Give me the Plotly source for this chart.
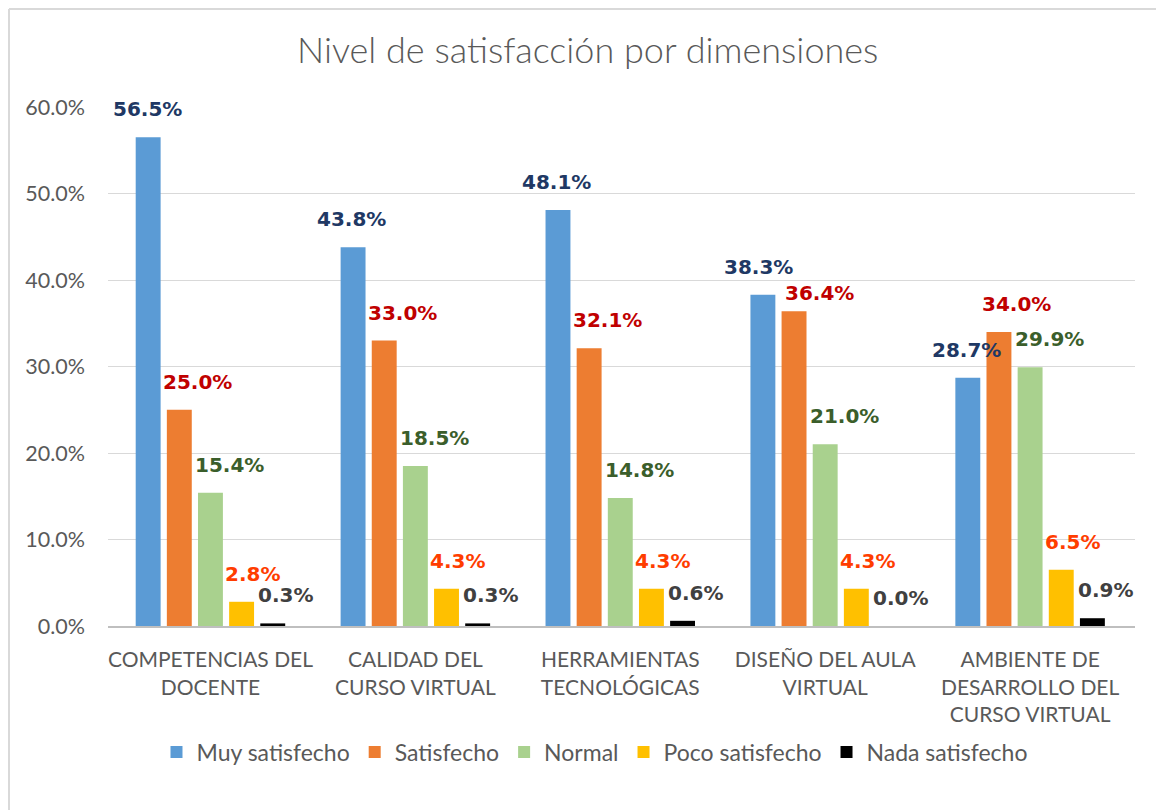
import plotly.graph_objects as go

categories = ["COMPETENCIAS DEL<br>DOCENTE", "CALIDAD DEL<br>CURSO VIRTUAL", "HERRAMIENTAS<br>TECNOLÓGICAS",
              "DISEÑO DEL AULA<br>VIRTUAL", "AMBIENTE DE<br>DESARROLLO DEL<br>CURSO VIRTUAL"]
series_names = ["Muy satisfecho", "Satisfecho", "Normal", "Poco satisfecho", "Nada satisfecho"]
muy_satisfecho = [56.5, 43.8, 48.1, 38.3, 28.7]
satisfecho = [25.0, 33.0, 32.1, 36.4, 34.0]
normal = [15.4, 18.5, 14.8, 21.0, 29.9]
poco_satisfecho = [2.8, 4.3, 4.3, 4.3, 6.5]
nada_satisfecho = [0.3, 0.3, 0.6, 0.0, 0.9]
tick_values = [0, 10, 20, 30, 40, 50, 60]

series_values = [muy_satisfecho, satisfecho, normal, poco_satisfecho, nada_satisfecho]
bar_colors = ["#5B9BD5", "#ED7D31", "#A9D18E", "#FFC000", "#000000"]
label_colors = ["#203864", "#C00000", "#3B5E2B", "#FF3D00", "#404040"]
label_offsets = [-1, 18, 19, 11, 13]
# manual label nudges (series index, category index) -> (dx, dy)
label_nudges = {(1, 3): (8, -10), (0, 3): (-3, 0)}

FONT = "Lato, 'Open Sans', sans-serif"
LABEL_FONT = "'DejaVu Sans', Verdana, sans-serif"
fig = go.Figure()
for name, vals, col in zip(series_names, series_values, bar_colors):
    fig.add_trace(go.Bar(x=categories, y=vals, name=name, marker_color=col, marker_line_width=0))

pitch = 31.2
annotations = []
for i, (vals, lc) in enumerate(zip(series_values, label_colors)):
    for j, (cat, v) in enumerate(zip(categories, vals)):
        dx, dy = label_nudges.get((i, j), (0, 0))
        annotations.append(dict(
            x=cat, y=v, xref="x", yref="y", text=f"{v:.1f}%", showarrow=False,
            xshift=(i - 2) * pitch + label_offsets[i] + dx, yshift=28 + dy, yanchor="middle",
            font=dict(family=LABEL_FONT, size=20, color=lc, weight="bold")))

border = dict(color="#D9D9D9", width=2)
fig.update_layout(
    width=1164, height=810,
    paper_bgcolor="white", plot_bgcolor="white",
    margin=dict(l=100, r=37, t=99, b=192, autoexpand=False),
    barmode="group", bargap=0.24, bargroupgap=0.2,
    title=dict(text="Nivel de satisfacción por dimensiones", x=0.498, xanchor="center",
               y=0.948, yanchor="middle",
               font=dict(family=FONT, size=36, color="#595959", weight=300)),
    font=dict(family=FONT, color="#595959"),
    legend=dict(orientation="h", x=0.4737, xanchor="center", y=-0.243, yanchor="middle",
                font=dict(family=FONT, size=23, color="#595959"), itemsizing="constant",
                traceorder="normal"),
    annotations=annotations,
    shapes=[
        dict(type="line", xref="paper", yref="paper", x0=-0.0964, x1=-0.0964, y0=-0.38, y1=1.1888, line=border),
        dict(type="line", xref="paper", yref="paper", x0=-0.0964, x1=1.04, y0=1.1888, y1=1.1888, line=border),
    ],
)
fig.update_yaxes(range=[0, 60], tickvals=tick_values, ticktext=[f"{t:.1f}%" for t in tick_values],
                 showgrid=True, gridcolor="#D9D9D9", gridwidth=1, zeroline=False, automargin=False,
                 tickfont=dict(family=FONT, size=21.5, color="#595959"), ticks="", ticklabelstandoff=22)
fig.update_xaxes(showline=True, linecolor="#BFBFBF", linewidth=2, automargin=False,
                 tickfont=dict(family=FONT, size=21, color="#595959"), ticks="", ticklabelstandoff=14)

fig.write_html("out.html")
